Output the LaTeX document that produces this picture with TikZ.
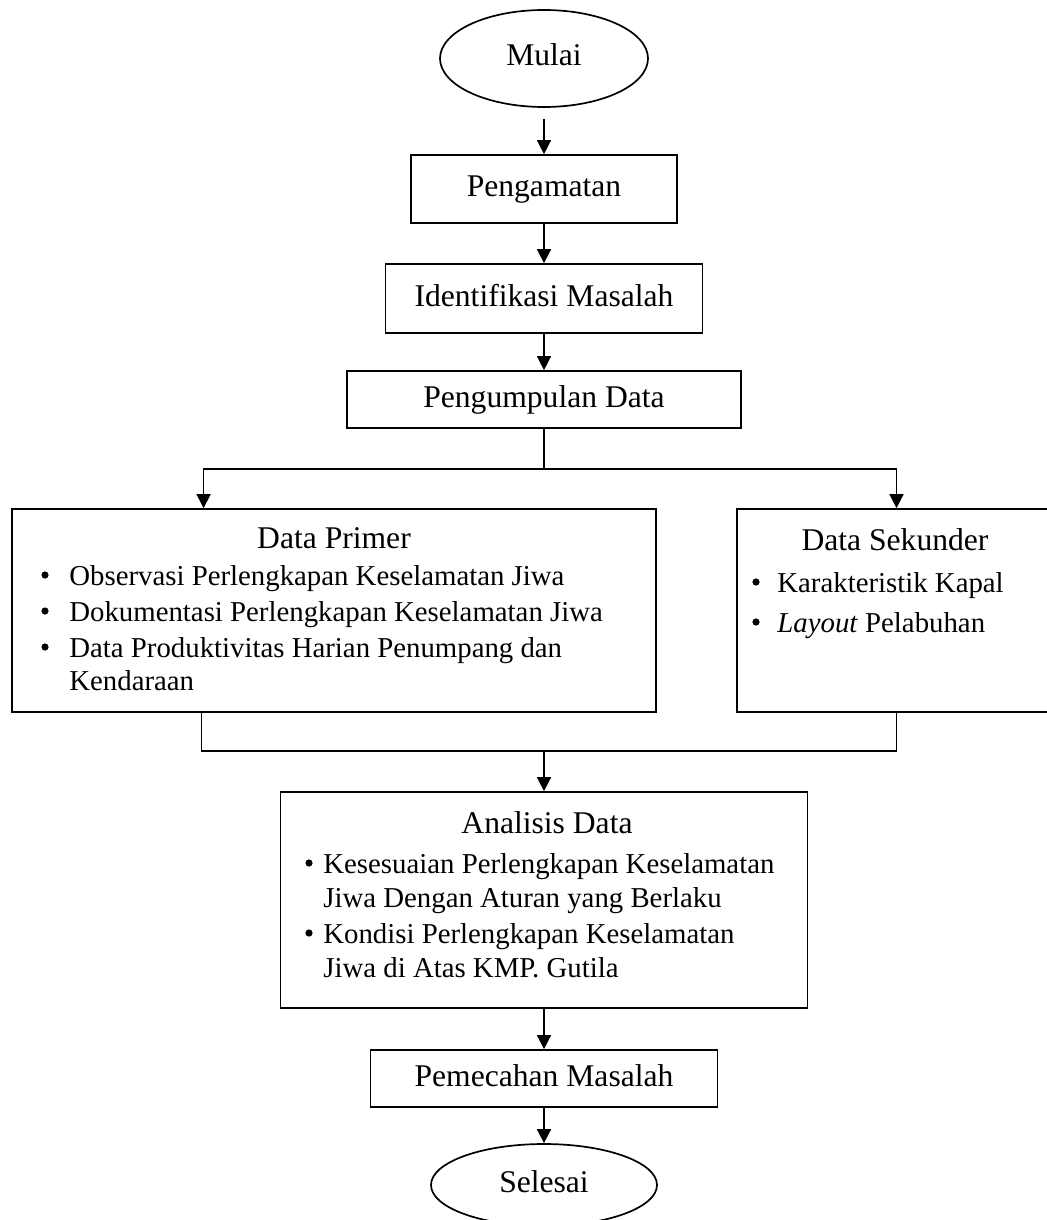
\documentclass[tikz,border=0pt]{standalone}
\usepackage{fontspec}
\setmainfont{Liberation Serif}
\usetikzlibrary{calc}
\usetikzlibrary{arrows.meta,shapes.geometric}

\begin{document}
\begin{tikzpicture}[x=0.5pt, y=-0.5pt,
  every node/.style={font=\fontsize{15.8}{18}\selectfont},
  box/.style={draw, line width=0.85pt, inner sep=0pt, text height=11pt, text depth=3.5pt},
  oval/.style={box, ellipse},
  ttl/.style={inner sep=0pt, anchor=base},
  itm/.style={inner sep=0pt, anchor=base west, font=\fontsize{14.4}{17}\selectfont},
  dot/.style={fill, circle, inner sep=0pt, minimum size=3.6pt},
  line/.style={line width=0.75pt},
  arr/.style={line width=0.75pt, -{Triangle[length=7pt, width=7pt]}}]

\useasboundingbox (0,0) rectangle (1046,1220);

% main column

\node[oval, minimum width=104pt, minimum height=48.5pt] (mulai) at (544, 58.5) {Mulai};
\node[box, minimum width=133pt, minimum height=34pt] (amat) at (544, 189) {Pengamatan};
\node[box, minimum width=158.5pt, minimum height=34.5pt] (ident) at (544, 298.5) {Identifikasi Masalah};
\node[box, minimum width=197pt, minimum height=28.5pt] (kumpul) at (544, 399.5) {Pengumpulan Data};

% data boxes

\node[box, minimum width=322pt, minimum height=101.5pt] (primer) at (334, 610.5) {};
\node[box, minimum width=159.5pt, minimum height=101.5pt] (sekunder) at (896.5, 610.5) {};

\node[ttl] (primerJudul) at (334, 548) {Data Primer};
\node[dot] (pb1) at (45, 575) {};
\node[itm] (pt1) at (69, 585) {Observasi Perlengkapan Keselamatan Jiwa};
\node[dot] (pb2) at (45, 611) {};
\node[itm] (pt2) at (69, 621) {Dokumentasi Perlengkapan Keselamatan Jiwa};
\node[dot] (pb3) at (45, 647) {};
\node[itm] (pt3) at (69, 657) {Data Produktivitas Harian Penumpang dan};
\node[itm] (pt4) at (69, 690) {Kendaraan};

\node[ttl] (sekunderJudul) at (895, 550) {Data Sekunder};
\node[dot] (sb1) at (756, 582) {};
\node[itm] (st1) at (777, 592) {Karakteristik Kapal};
\node[dot] (sb2) at (756, 622) {};
\node[itm] (st2) at (777, 632) {\textit{Layout} Pelabuhan};

% analysis and end

\node[box, minimum width=263.5pt, minimum height=108pt] (analisis) at (544, 900) {};
\node[ttl] (analisisJudul) at (547, 833) {Analisis Data};
\node[dot] (ab1) at (309, 863) {};
\node[itm] (at1) at (323, 873) {Kesesuaian Perlengkapan Keselamatan};
\node[itm] (at2) at (323, 907) {Jiwa Dengan Aturan yang Berlaku};
\node[dot] (ab2) at (309, 933) {};
\node[itm] (at3) at (323, 943) {Kondisi Perlengkapan Keselamatan};
\node[itm] (at4) at (323, 977) {Jiwa di Atas KMP. Gutila};

\node[box, minimum width=173.5pt, minimum height=28.5pt] (pecah) at (544, 1078.5) {Pemecahan Masalah};
\node[oval, minimum width=113pt, minimum height=41pt] (selesai) at (544, 1185) {Selesai};

% connectors

\coordinate (bagi) at (544, 469);
\coordinate (gabung) at (544, 751);

\draw[arr, shorten <=5.5pt] (mulai) -- (amat);
\draw[arr] (amat) -- (ident);
\draw[arr] (ident) -- (kumpul);
\draw[line] (kumpul) -- (bagi);
\draw[arr] (bagi) -| ($(primer.north west)!0.298!(primer.north east)$);
\draw[arr] (bagi) -| (sekunder.north);
\draw[line] ($(primer.south west)!0.295!(primer.south east)$) |- (gabung) -| (sekunder.south);
\draw[arr] (gabung) -- (analisis);
\draw[arr] (analisis) -- (pecah);
\draw[arr] (pecah) -- (selesai);

\end{tikzpicture}
\end{document}
